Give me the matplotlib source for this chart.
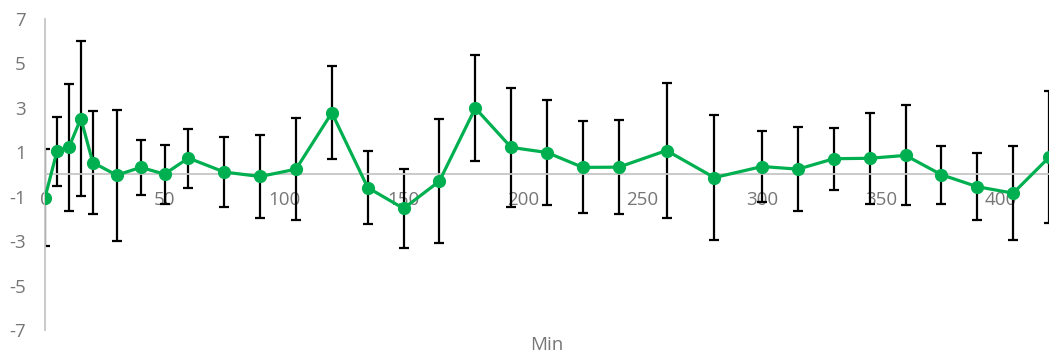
import matplotlib
matplotlib.use("Agg")
import matplotlib.pyplot as plt

# Mean change per time point (minutes) with standard deviation
minutes = [0, 5, 10, 15, 20, 30, 40, 50, 60, 75, 90, 105, 120, 135, 150, 165,
           180, 195, 210, 225, 240, 260, 280, 300, 315, 330, 345, 360, 375,
           390, 405, 420]
mean_change = [-1.04, 1.04, 1.22, 2.52, 0.54, -0.03, 0.32, 0.02, 0.74, 0.11,
               -0.09, 0.24, 2.78, -0.59, -1.53, -0.30, 2.99, 1.22, 0.99, 0.32,
               0.33, 1.08, -0.14, 0.36, 0.24, 0.71, 0.73, 0.86, -0.01, -0.55,
               -0.84, 0.77]
std_dev = [2.2, 1.55, 2.87, 3.47, 2.34, 2.95, 1.25, 1.33, 1.33, 1.58, 1.86,
           2.3, 2.1, 1.66, 1.78, 2.78, 2.39, 2.68, 2.36, 2.07, 2.12, 3.03,
           2.82, 1.58, 1.88, 1.39, 2.04, 2.25, 1.3, 1.5, 2.12, 2.97]

x_ticks = [0, 50, 100, 150, 200, 250, 300, 350, 400]
y_ticks = [-7, -5, -3, -1, 1, 3, 5, 7]
x_label = "Min"

plt.rcParams["font.family"] = ["Open Sans", "DejaVu Sans"]
plt.rcParams["axes.unicode_minus"] = False

W, H = 1049, 358
fig = plt.figure(figsize=(W / 100, H / 100), dpi=100)
ax = fig.add_axes([45 / W, 1 - 330 / H, 1 - 45 / W, (330 - 19) / H])

green = "#00b050"
axis_gray = "#c6c6c6"
text_gray = "#767676"
fs = 13.5

ax.errorbar(minutes, mean_change, yerr=std_dev, fmt="none", ecolor="black",
            elinewidth=1.6, capsize=3.3, capthick=1.6, zorder=2)
ax.plot(minutes, mean_change, color=green, lw=2.3, marker="o",
        markersize=8.5, zorder=3)

ax.set_xlim(0, 420)
ax.set_ylim(-7, 7)
ax.set_xticks(x_ticks)
ax.set_yticks(y_ticks)

for side in ("top", "right"):
    ax.spines[side].set_visible(False)
ax.spines["bottom"].set_position(("data", 0))
ax.spines["bottom"].set_color(axis_gray)
ax.spines["bottom"].set_linewidth(1.3)
ax.spines["left"].set_color(axis_gray)
ax.spines["left"].set_linewidth(1.3)

ax.tick_params(axis="x", length=0, pad=12, labelsize=fs, labelcolor=text_gray)
ax.tick_params(axis="y", length=0, pad=14, labelsize=fs, labelcolor=text_gray)

fig.text((45 + W) / 2 / W, 1 - 345.5 / H, x_label, ha="center", va="center",
         fontsize=fs, color=text_gray)

fig.savefig("out.png", dpi=100)
